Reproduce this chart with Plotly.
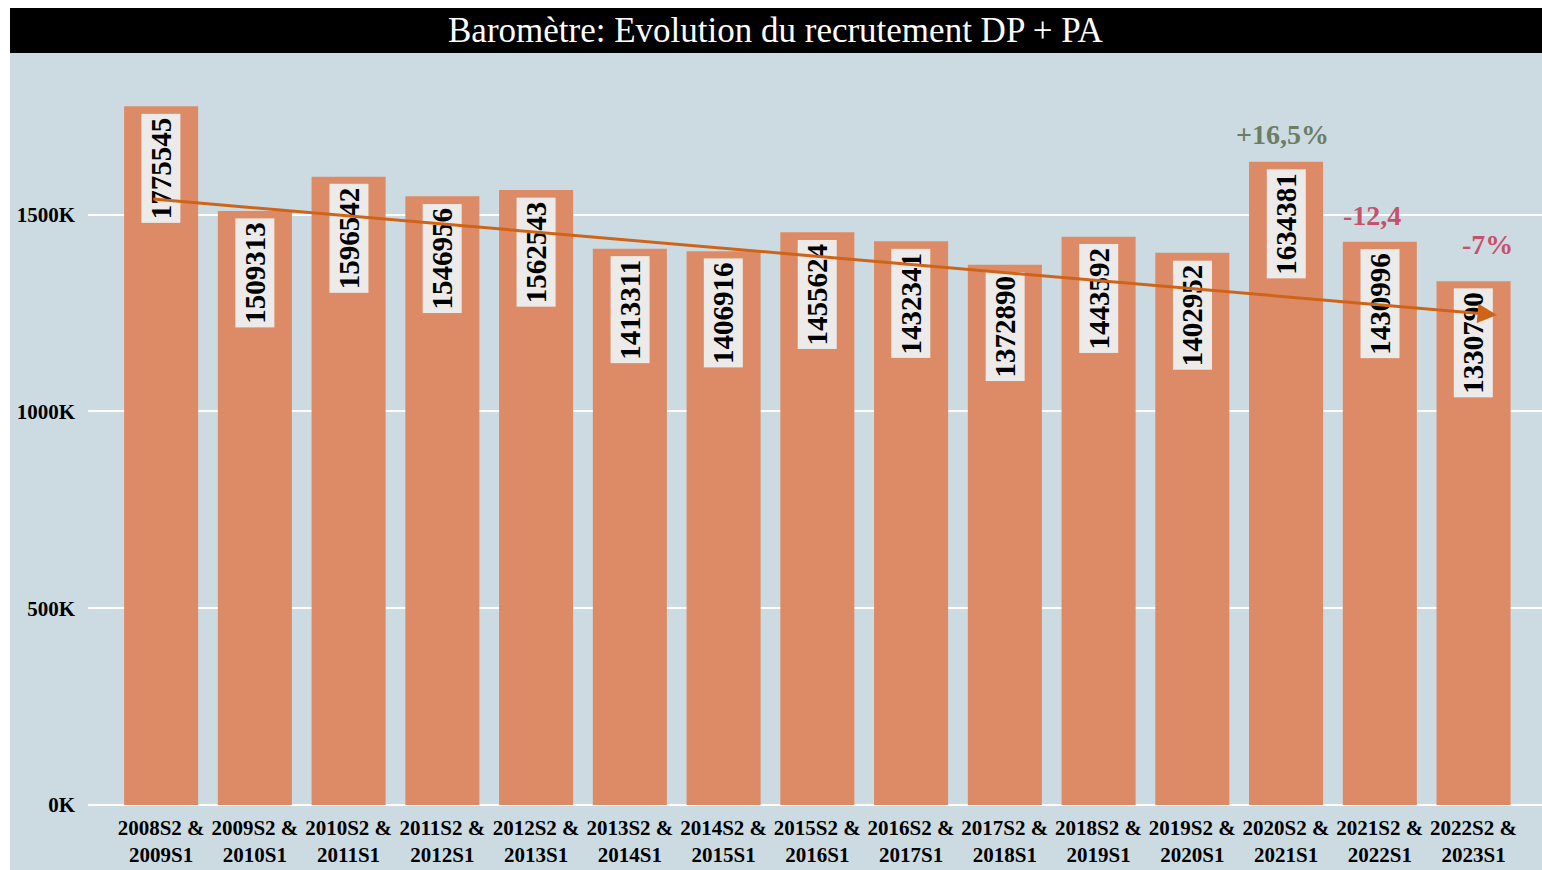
import plotly.graph_objects as go

# ---------------- data ----------------
categories = ["2008S2 &<br>2009S1", "2009S2 &<br>2010S1", "2010S2 &<br>2011S1",
              "2011S2 &<br>2012S1", "2012S2 &<br>2013S1", "2013S2 &<br>2014S1",
              "2014S2 &<br>2015S1", "2015S2 &<br>2016S1", "2016S2 &<br>2017S1",
              "2017S2 &<br>2018S1", "2018S2 &<br>2019S1", "2019S2 &<br>2020S1",
              "2020S2 &<br>2021S1", "2021S2 &<br>2022S1", "2022S2 &<br>2023S1"]
values = [1775545, 1509313, 1596542, 1546956, 1562543, 1413311, 1406916, 1455624,
          1432341, 1372890, 1443592, 1402952, 1634381, 1430996, 1330790]
ytick_vals = [0, 500000, 1000000, 1500000]
ytick_text = ["0K", "500K", "1000K", "1500K"]
change_idx = [12, 13, 14]
change_text = ["+16,5%", "-12,4", "-7%"]
change_color = ["#6E7D62", "#C8506A", "#C8506A"]
change_xshift = [-4, -8, 14]
change_yshift = [10, 9, 19]
trend_x = [-0.1, 14.25]
trend_y = [1540000, 1245000]
title_text = "Baromètre: Evolution du recrutement DP + PA"

# ---------------- layout constants (page px) ----------------
W, H = 1542, 870
ML, MR, MT, MB = 88, 0, 60, 65
PW, PH = W - ML - MR, H - MT - MB
BG = "#CCDBE2"
BAR = "#DD8B66"
SERIF = "Liberation Serif, Times New Roman, serif"


def px_x(p):
    return (p - ML) / PW


def px_y(p):
    return (H - MB - p) / PH


fig = go.Figure()
fig.add_trace(go.Bar(x=categories, y=values, marker=dict(color=BAR, line=dict(width=0)),
                     hoverinfo="x+y"))

annotations = []
# value labels inside bars
for c, v in zip(categories, values):
    annotations.append(dict(
        x=c, y=v, xref="x", yref="y", text=str(v), showarrow=False,
        textangle=-90, yanchor="top", xanchor="center", yshift=-7,
        font=dict(family=SERIF, size=29, color="black", weight="bold"),
        bgcolor="#ECEBE9", borderpad=3))

# change annotations
for i, t, col, xs, ys in zip(change_idx, change_text, change_color, change_xshift, change_yshift):
    annotations.append(dict(
        x=categories[i], y=values[i], xref="x", yref="y", text=t, showarrow=False,
        yanchor="bottom", xanchor="center", yshift=ys, xshift=xs,
        font=dict(family=SERIF, size=28, color=col, weight="bold")))

# trend arrow
annotations.append(dict(
    x=trend_x[1], y=trend_y[1], ax=trend_x[0], ay=trend_y[0],
    xref="x", yref="y", axref="x", ayref="y", text="", showarrow=True,
    arrowhead=2, arrowsize=1.3, arrowwidth=3, arrowcolor="#CF6418"))

# title
annotations.append(dict(
    x=(px_x(10) + px_x(W)) / 2, y=(px_y(8) + px_y(53)) / 2, xref="paper", yref="paper",
    text=title_text, showarrow=False, xanchor="center", yanchor="middle",
    font=dict(family=SERIF, size=35, color="white")))

shapes = [
    dict(type="rect", xref="paper", yref="paper", x0=px_x(0), x1=px_x(10), y0=px_y(H), y1=px_y(0),
         fillcolor="white", line=dict(width=0), layer="below"),
    dict(type="rect", xref="paper", yref="paper", x0=px_x(0), x1=px_x(W), y0=px_y(8), y1=px_y(0),
         fillcolor="white", line=dict(width=0), layer="below"),
    dict(type="rect", xref="paper", yref="paper", x0=px_x(10), x1=px_x(W), y0=px_y(53), y1=px_y(8),
         fillcolor="black", line=dict(width=0), layer="above"),
]

fig.update_layout(
    width=W, height=H,
    margin=dict(l=ML, r=MR, t=MT, b=MB, pad=0),
    paper_bgcolor=BG, plot_bgcolor=BG,
    showlegend=False, bargap=0.21,
    annotations=annotations, shapes=shapes,
    xaxis=dict(type="category", range=[-0.78, 14.73], showgrid=False, showline=False,
               ticks="", tickfont=dict(family=SERIF, size=21, color="black", weight="bold"),
               ticklabelstandoff=8, fixedrange=True),
    yaxis=dict(range=[0, 1893000], tickvals=ytick_vals, ticktext=ytick_text,
               showgrid=True, gridcolor="white", gridwidth=2, zeroline=True,
               zerolinecolor="white", zerolinewidth=2, showline=False, ticks="",
               tickfont=dict(family=SERIF, size=21, color="black", weight="bold"),
               ticklabelstandoff=12, fixedrange=True),
)

fig.write_html("out.html", config={"displayModeBar": False},
               post_script="document.body.style.margin='0';document.body.style.overflow='hidden';")
